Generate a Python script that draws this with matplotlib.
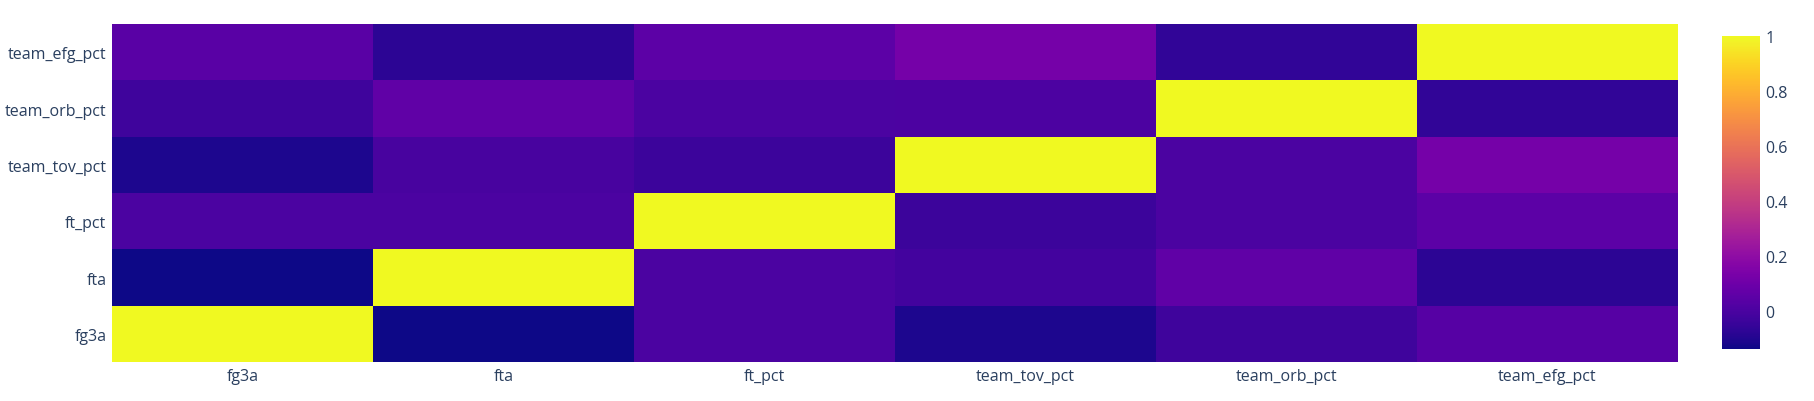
import numpy as np
import matplotlib.pyplot as plt

# Data (correlation matrix, rows listed bottom -> top)
labels = ["fg3a", "fta", "ft_pct", "team_tov_pct", "team_orb_pct", "team_efg_pct"]
row_fg3a = [1.00, -0.14, 0.00, -0.11, -0.03, 0.03]
row_fta = [-0.14, 1.00, 0.00, -0.02, 0.06, -0.08]
row_ft_pct = [0.00, 0.00, 1.00, -0.04, 0.00, 0.05]
row_tov = [-0.11, -0.01, -0.04, 1.00, 0.00, 0.12]
row_orb = [-0.03, 0.06, 0.00, 0.005, 1.00, -0.065]
row_efg = [0.04, -0.08, 0.05, 0.12, -0.065, 1.00]

z = np.array([row_fg3a, row_fta, row_ft_pct, row_tov, row_orb, row_efg])

plt.rcParams['font.family'] = ['Open Sans', 'DejaVu Sans']
txt = "#2a3f5f"

fig = plt.figure(figsize=(18.15, 4.02), dpi=100)
ax = fig.add_axes([0.0617, 0.097, 0.8628, 0.8408])
mesh = ax.pcolormesh(z, cmap="plasma", vmin=z.min(), vmax=1.0)

ax.set_xticks(np.arange(len(labels)) + 0.5)
ax.set_xticklabels(labels)
ax.set_yticks(np.arange(len(labels)) + 0.5)
ax.set_yticklabels(labels)
ax.tick_params(length=0, labelsize=11.5, colors=txt, pad=4)
for s in ax.spines.values():
    s.set_visible(False)

cax = fig.add_axes([0.9488, 0.1294, 0.0209, 0.7786])
cb = fig.colorbar(mesh, cax=cax, ticks=[0, 0.2, 0.4, 0.6, 0.8, 1])
cb.ax.set_yticklabels(["0", "0.2", "0.4", "0.6", "0.8", "1"])
cb.outline.set_visible(False)
cb.ax.tick_params(length=0, labelsize=11.5, colors=txt, pad=4)

fig.savefig("out.png", dpi=100)
